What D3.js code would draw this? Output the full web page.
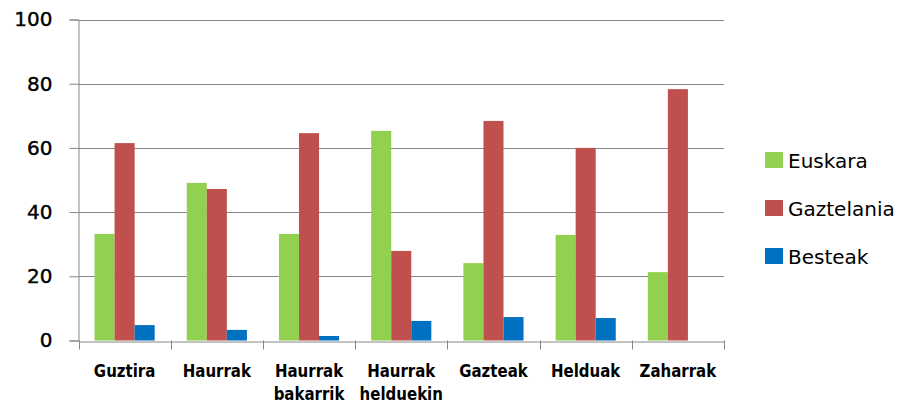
<!DOCTYPE html>
<html><head><meta charset="utf-8">
<script src="https://cdn.jsdelivr.net/npm/d3@7"></script>
<style>body{margin:0;background:#fff}svg{display:block}</style>
</head><body>
<svg id="c" width="904" height="403"></svg>
<script>
const categories = [["Guztira"],["Haurrak"],["Haurrak","bakarrik"],["Haurrak","helduekin"],["Gazteak"],["Helduak"],["Zaharrak"]];
const seriesNames = ["Euskara","Gaztelania","Besteak"];
const euskara    = [33.2, 49.1, 33.2, 65.3, 24.1, 32.9, 21.3];
const gaztelania = [61.5, 47.2, 64.6, 27.9, 68.4, 60.0, 78.3];
const besteak    = [4.8, 3.3, 1.4, 6.1, 7.3, 7.0, 0];
const yTicks = [0,20,40,60,80,100];
const colors = ["#92D050","#C0504D","#0070C0"];

(function(){
const series = [euskara, gaztelania, besteak];
const svg = d3.select("#c");
const pLeft = 78.5, pRight = 724, pTop = 19.5, pBottom = 340.5;
const catKeys = categories.map((c,i)=>i);
const x = d3.scaleBand().domain(catKeys).range([pLeft,pRight]).paddingInner(0).paddingOuter(0);
const x1 = d3.scaleBand().domain(seriesNames).range([0,x.bandwidth()]).paddingInner(0).paddingOuter(0.8);
const y = d3.scaleLinear().domain([0,100]).range([pBottom,pTop]);

// gridlines
svg.append("g").selectAll("line").data(yTicks.filter(d=>d>0)).join("line")
  .attr("x1",pLeft).attr("x2",pRight).attr("y1",d=>Math.round(y(d))+0.5).attr("y2",d=>Math.round(y(d))+0.5)
  .attr("stroke","#868686").attr("stroke-width",1);

// bars
const g = svg.append("g");
series.forEach((vals,si)=>{
  g.selectAll(null).data(vals).join("rect")
    .attr("x",(d,i)=>x(i)+x1(seriesNames[si]))
    .attr("width",x1.bandwidth())
    .attr("y",d=>y(d))
    .attr("height",d=>y(0)-y(d))
    .attr("fill",colors[si]);
});

// y axis
const yAxis = d3.axisLeft(y).tickValues(yTicks).tickSize(9).tickPadding(17);
const ya = svg.append("g").attr("transform",`translate(${pLeft},0)`).call(yAxis);
ya.select(".domain").attr("stroke","#868686");
ya.selectAll(".tick line").attr("stroke","#868686");
ya.selectAll(".tick text").attr("font-family","DejaVu Sans").attr("font-size",20).attr("fill","#000")
  .attr("stroke","#000").attr("stroke-width",0.4);

// x axis
const xAxis = d3.axisBottom(x).tickSize(0).tickFormat("");
const xa = svg.append("g").attr("transform",`translate(0,${Math.round(pBottom)+0.5})`).call(xAxis);
xa.select(".domain").attr("stroke","#868686");
xa.selectAll(".tick").remove();
const bounds = catKeys.map(i=>x(i)).concat([pRight]);
svg.append("g").selectAll("line").data(bounds).join("line")
  .attr("x1",d=>Math.round(d)+0.5).attr("x2",d=>Math.round(d)+0.5)
  .attr("y1",pBottom).attr("y2",pBottom+9).attr("stroke","#868686");
const lab = svg.append("g");
categories.forEach((c,i)=>{
  const cx = x(i)+x.bandwidth()/2;
  const t = lab.append("text")
    .attr("transform",`translate(${cx},377) scale(1,1.2)`)
    .attr("text-anchor","middle").attr("font-family","DejaVu Sans").attr("font-weight","bold")
    .attr("font-size",15).attr("fill","#000");
  c.forEach((line,li)=>t.append("tspan").attr("x",0).attr("y",li*19).text(line));
});

// legend
const lg = svg.append("g");
seriesNames.forEach((n,i)=>{
  const cy = 160 + i*48;
  lg.append("rect").attr("x",765).attr("y",cy-8).attr("width",18).attr("height",16).attr("fill",colors[i]);
  lg.append("text").attr("x",788).attr("y",cy+7.5).attr("font-family","DejaVu Sans").attr("font-size",20).attr("fill","#000").text(n);
});
})();
</script>
</body></html>
